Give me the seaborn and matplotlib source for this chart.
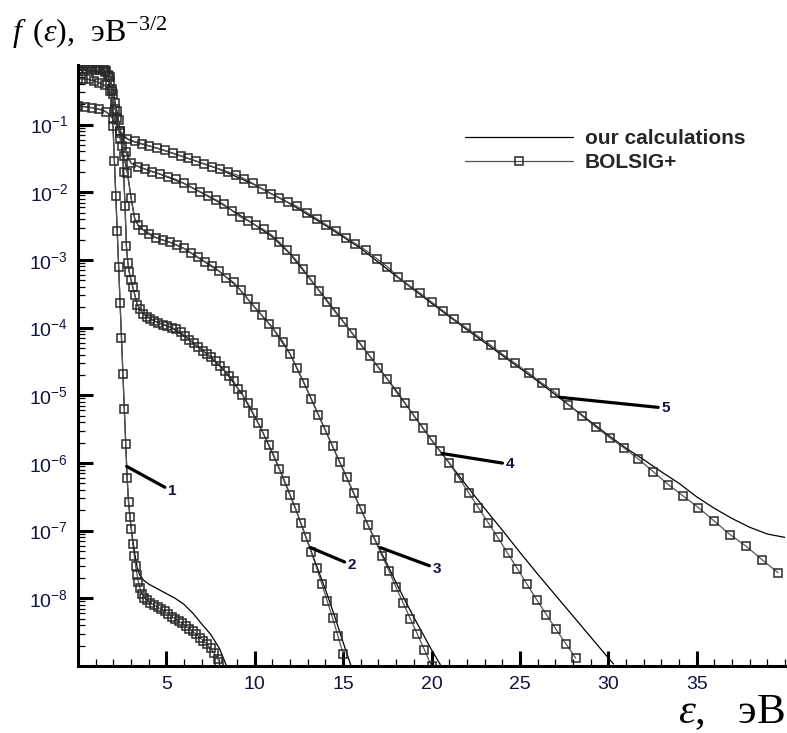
import numpy as np
import matplotlib
matplotlib.use("Agg")
import matplotlib.pyplot as plt
import seaborn as sns
from matplotlib.lines import Line2D
from matplotlib.ticker import LogLocator, NullFormatter, MultipleLocator

# ---------------- data (energy in eV, log10 of f in eV^-3/2) ----------------
# curve 1
e1_b = [0.0, 0.2, 0.4, 0.6, 0.8, 1.0, 1.2, 1.4, 1.55, 1.7, 1.8, 1.9, 1.98, 2.06, 2.14, 2.22, 2.30, 2.38,
        2.46, 2.54, 2.62, 2.70, 2.78, 2.86, 2.94, 3.02, 3.10, 3.18, 3.26, 3.34, 3.42, 3.50, 3.62, 3.76,
        3.92, 4.1, 4.3, 4.5, 4.7, 4.9, 5.1, 5.3, 5.5, 5.7, 5.9, 6.1, 6.3, 6.5, 6.7, 6.9, 7.1, 7.3, 7.5,
        7.7, 7.9, 8.0]
lg1_b = [-0.14, -0.14, -0.14, -0.14, -0.145, -0.15, -0.16, -0.17, -0.20, -0.27, -0.36, -0.50, -1.02,
         -1.54, -2.06, -2.58, -3.10, -3.63, -4.15, -4.68, -5.20, -5.72, -6.22, -6.58, -6.80, -6.98,
         -7.20, -7.37, -7.52, -7.65, -7.76, -7.85, -7.93, -7.99, -8.03, -8.07, -8.10, -8.13, -8.16,
         -8.19, -8.23, -8.27, -8.30, -8.34, -8.37, -8.41, -8.45, -8.49, -8.53, -8.58, -8.63, -8.68,
         -8.74, -8.81, -8.89, -8.94]
e1_c = [0.0, 0.5, 1.0, 1.4, 1.7, 1.8, 1.9, 2.0, 2.2, 2.4, 2.6, 2.78, 2.86, 3.0, 3.2, 3.35, 3.5, 3.7,
        4.0, 4.5, 5.0, 5.5, 6.0, 6.5, 7.0, 7.5, 8.0, 8.3, 8.4]
lg1_c = [-0.14, -0.14, -0.15, -0.17, -0.27, -0.36, -0.50, -1.15, -2.45, -3.76, -5.07, -6.22, -6.58,
         -6.95, -7.32, -7.55, -7.66, -7.73, -7.79, -7.86, -7.93, -8.00, -8.09, -8.22, -8.38, -8.53,
         -8.74, -8.93, -9.0]

# curve 2
e2_b = [0.0, 0.2, 0.4, 0.6, 0.8, 1.0, 1.2, 1.4, 1.6, 1.8, 1.95, 2.1, 2.2, 2.3, 2.4, 2.5, 2.58, 2.66,
        2.74, 2.82, 2.9, 3.0, 3.1, 3.22, 3.35, 3.5, 3.7, 3.9, 4.1, 4.3, 4.55, 4.8, 5.05, 5.3, 5.55,
        5.8, 6.05, 6.3, 6.55, 6.8, 7.05, 7.3, 7.55, 7.8, 8.05, 8.3, 8.55, 8.8, 9.05, 9.3, 9.6, 9.9,
        10.2, 10.5, 10.8, 11.1, 11.4, 11.7, 12.0, 12.3, 12.6, 12.9, 13.2, 13.5, 13.8, 14.1, 14.4,
        14.7, 15.0]
lg2_b = [-0.14, -0.14, -0.14, -0.14, -0.145, -0.15, -0.16, -0.17, -0.21, -0.30, -0.48, -0.68, -0.80,
         -0.94, -1.12, -1.32, -1.70, -2.20, -2.80, -3.04, -3.18, -3.30, -3.40, -3.52, -3.66, -3.73,
         -3.80, -3.84, -3.87, -3.90, -3.93, -3.96, -3.98, -4.00, -4.02, -4.07, -4.12, -4.18, -4.23,
         -4.29, -4.34, -4.39, -4.44, -4.50, -4.57, -4.64, -4.71, -4.79, -4.90, -4.99, -5.11, -5.26,
         -5.41, -5.57, -5.73, -5.90, -6.09, -6.27, -6.47, -6.67, -6.88, -7.10, -7.32, -7.55, -7.79,
         -8.04, -8.29, -8.55, -8.82]
e2_c = [0.0, 0.5, 1.0, 1.5, 1.8, 2.0, 2.2, 2.4, 2.5, 2.58, 2.66, 2.74, 2.82, 2.9, 3.05, 3.35, 3.7,
        4.3, 5.3, 6.3, 7.3, 8.3, 9.3, 10.3, 11.3, 12.3, 13.0, 13.5, 14.0, 14.5, 15.0, 15.45]
lg2_c = [-0.14, -0.14, -0.15, -0.19, -0.30, -0.55, -0.80, -1.12, -1.32, -1.70, -2.20, -2.80, -3.04,
         -3.18, -3.35, -3.66, -3.80, -3.90, -4.00, -4.18, -4.39, -4.64, -4.99, -5.46, -6.03, -6.67,
         -7.17, -7.52, -7.87, -8.25, -8.65, -9.0]

# curve 3
e3_b = [0.0, 0.25, 0.5, 0.75, 1.0, 1.25, 1.5, 1.75, 2.0, 2.2, 2.4, 2.6, 2.8, 3.0, 3.2, 3.4, 3.7, 4.0,
        4.4, 4.8, 5.2, 5.6, 6.0, 6.4, 6.8, 7.2, 7.6, 8.0, 8.4, 8.8, 9.2, 9.6, 10.0, 10.4, 10.8, 11.2,
        11.6, 12.0, 12.4, 12.8, 13.2, 13.6, 14.0, 14.4, 14.8, 15.2, 15.6, 16.0, 16.4, 16.8, 17.2,
        17.6, 18.0, 18.4, 18.8, 19.2, 19.6, 20.0]
lg3_b = [-0.18, -0.18, -0.18, -0.185, -0.19, -0.20, -0.22, -0.28, -0.55, -0.90, -1.22, -1.47, -1.72,
         -2.08, -2.38, -2.49, -2.56, -2.62, -2.67, -2.71, -2.74, -2.78, -2.83, -2.90, -2.96, -3.03,
         -3.09, -3.17, -3.26, -3.33, -3.45, -3.58, -3.70, -3.82, -3.94, -4.07, -4.21, -4.39, -4.60,
         -4.82, -5.06, -5.29, -5.52, -5.75, -5.98, -6.21, -6.45, -6.68, -6.91, -7.14, -7.37, -7.60,
         -7.84, -8.07, -8.30, -8.53, -8.76, -9.00]
e3_c = [0.0, 0.5, 1.0, 1.5, 1.75, 2.0, 2.2, 2.4, 2.6, 2.8, 3.0, 3.2, 3.4, 3.7, 4.4, 5.2, 6.0, 7.0,
        8.0, 9.0, 10.0, 11.0, 12.0, 13.0, 14.0, 15.0, 16.0, 16.5, 17.0, 17.5, 18.0, 18.5, 19.0, 19.5,
        20.0, 20.5]
lg3_c = [-0.18, -0.18, -0.19, -0.22, -0.28, -0.55, -0.90, -1.22, -1.47, -1.72, -2.08, -2.38, -2.49,
         -2.56, -2.67, -2.74, -2.83, -3.00, -3.17, -3.39, -3.70, -4.00, -4.39, -4.94, -5.52, -6.10,
         -6.68, -6.97, -7.24, -7.50, -7.77, -8.03, -8.28, -8.52, -8.76, -8.98]

# curve 4
e4_b = [0.0, 0.3, 0.6, 0.9, 1.2, 1.5, 1.8, 2.1, 2.4, 2.7, 3.0, 3.4, 3.8, 4.2, 4.65, 5.1, 5.55, 6.0,
        6.45, 6.9, 7.35, 7.8, 8.25, 8.7, 9.15, 9.6, 10.05, 10.5, 10.95, 11.4, 11.85, 12.3, 12.75,
        13.2, 13.65, 14.1, 14.55, 15.0, 15.5, 16.0, 16.5, 17.0, 17.5, 18.0, 18.5, 19.0, 19.5, 20.0,
        20.5, 21.0, 21.55, 22.1, 22.65, 23.2, 23.75, 24.3, 24.85, 25.4, 25.95, 26.5, 27.05, 27.6,
        28.15]
lg4_b = [-0.32, -0.32, -0.33, -0.35, -0.38, -0.42, -0.50, -0.77, -1.10, -1.40, -1.57, -1.62, -1.66,
         -1.70, -1.73, -1.77, -1.81, -1.87, -1.93, -1.99, -2.05, -2.11, -2.18, -2.27, -2.36, -2.42,
         -2.49, -2.55, -2.63, -2.74, -2.86, -2.99, -3.14, -3.30, -3.46, -3.62, -3.77, -3.91, -4.08,
         -4.25, -4.42, -4.59, -4.76, -4.95, -5.12, -5.30, -5.48, -5.66, -5.83, -6.00, -6.22, -6.44,
         -6.66, -6.88, -7.10, -7.33, -7.56, -7.79, -8.02, -8.24, -8.46, -8.67, -8.88]
e4_c = [0.0, 0.5, 1.0, 1.5, 1.8, 2.1, 2.4, 2.7, 3.0, 3.5, 4.5, 6.0, 8.0, 10.0, 11.0, 12.0, 13.0, 14.0,
        15.0, 16.0, 17.0, 18.0, 19.0, 20.0, 21.0, 22.0, 23.0, 24.0, 25.0, 26.0, 27.0, 28.0, 29.0,
        30.0, 30.3]
lg4_c = [-0.32, -0.33, -0.36, -0.42, -0.50, -0.77, -1.10, -1.40, -1.57, -1.63, -1.72, -1.87, -2.15,
         -2.48, -2.66, -2.91, -3.24, -3.57, -3.91, -4.25, -4.59, -4.93, -5.30, -5.66, -6.00, -6.34,
         -6.67, -6.99, -7.32, -7.64, -7.95, -8.26, -8.57, -8.88, -8.97]

# curve 5
e5_b = [0.0, 0.4, 0.8, 1.2, 1.6, 2.0, 2.4, 2.8, 3.2, 3.6, 4.0, 4.45, 4.9, 5.35, 5.8, 6.25, 6.7, 7.15,
        7.6, 8.05, 8.5, 8.95, 9.4, 9.9, 10.4, 10.9, 11.4, 11.9, 12.4, 12.95, 13.5, 14.05, 14.6,
        15.15, 15.7, 16.3, 16.9, 17.5, 18.1, 18.7, 19.35, 20.0, 20.65, 21.3, 21.95, 22.65, 23.35,
        24.05, 24.75, 25.5, 26.25, 27.0, 27.75, 28.5, 29.3, 30.1, 30.9, 31.7, 32.55, 33.4, 34.25,
        35.1, 36.0, 36.9, 37.8, 38.7, 39.6]
lg5_b = [-0.73, -0.735, -0.75, -0.77, -0.81, -0.92, -1.10, -1.21, -1.25, -1.28, -1.31, -1.35, -1.38,
         -1.42, -1.46, -1.50, -1.54, -1.58, -1.62, -1.66, -1.70, -1.74, -1.80, -1.87, -1.95, -2.02,
         -2.08, -2.15, -2.21, -2.30, -2.39, -2.48, -2.57, -2.67, -2.76, -2.86, -2.98, -3.10, -3.25,
         -3.37, -3.49, -3.62, -3.75, -3.88, -4.00, -4.13, -4.26, -4.40, -4.53, -4.67, -4.82, -4.96,
         -5.14, -5.30, -5.47, -5.63, -5.78, -5.94, -6.13, -6.32, -6.49, -6.66, -6.86, -7.06, -7.23,
         -7.43, -7.62]
e5_c = [0.0, 0.5, 1.0, 1.5, 1.8, 2.1, 2.4, 2.7, 3.0, 3.5, 4.5, 6.0, 8.0, 10.0, 12.0, 14.0, 16.0, 18.0,
        20.0, 22.0, 24.0, 26.0, 28.0, 30.0, 31.0, 32.0, 33.0, 34.0, 35.0, 36.0, 37.0, 38.0, 39.0, 40.0]
lg5_c = [-0.73, -0.74, -0.76, -0.80, -0.85, -0.96, -1.10, -1.20, -1.24, -1.28, -1.35, -1.48, -1.66,
         -1.89, -2.17, -2.49, -2.83, -3.24, -3.64, -4.03, -4.41, -4.79, -5.19, -5.59, -5.78, -5.95,
         -6.13, -6.30, -6.50, -6.67, -6.82, -6.95, -7.05, -7.10]

legend_labels = ["our calculations", "BOLSIG+"]
curve_names = ["1", "2", "3", "4", "5"]
# annotation: point on curve (e, log10 f) and label position (e, log10 f)
leader_pt = [(2.75, -6.05), (13.15, -7.25), (17.1, -7.25), (20.6, -5.86), (27.26, -5.03)]
label_pt = [(5.34, -6.42), (15.51, -7.51), (20.31, -7.56), (24.44, -6.02), (33.25, -5.19)]
xticks = [5, 10, 15, 20, 25, 30, 35]
yticks = [1e-8, 1e-7, 1e-6, 1e-5, 1e-4, 1e-3, 1e-2, 1e-1]

# ---------------- style ----------------
sns.set_theme(style="white")
plt.rcParams.update({
    "font.family": ["Liberation Sans", "DejaVu Sans"],
    "mathtext.fontset": "custom",
    "mathtext.rm": "Liberation Serif",
    "mathtext.it": "Liberation Serif:italic",
    "mathtext.bf": "Liberation Serif:bold",
    "axes.unicode_minus": False,
})

W, H = 787, 733
fig = plt.figure(figsize=(W / 100, H / 100), dpi=100)
ax = fig.add_axes([78 / W, 67 / H, 707 / W, 601 / H])

calc_kw = dict(color="black", lw=0.9, estimator=None, sort=False, errorbar=None)
bol_kw = dict(color="#555555", lw=0.9, marker="s", markersize=5.6, markerfacecolor="none",
              markeredgecolor="#2a2a2a", markeredgewidth=1.1, estimator=None, sort=False,
              errorbar=None)

series = [(e1_b, lg1_b, e1_c, lg1_c), (e2_b, lg2_b, e2_c, lg2_c), (e3_b, lg3_b, e3_c, lg3_c),
          (e4_b, lg4_b, e4_c, lg4_c), (e5_b, lg5_b, e5_c, lg5_c)]
for eb, lb, ec, lc in series:
    sns.lineplot(x=ec, y=10.0 ** np.array(lc), ax=ax, **calc_kw)
    sns.lineplot(x=eb, y=10.0 ** np.array(lb), ax=ax, **bol_kw)

ax.set_yscale("log")
ax.set_xlim(0, 40)
ax.set_ylim(1e-9, 10 ** -0.12)
ax.set_xticks(xticks)
ax.xaxis.set_minor_locator(MultipleLocator(1))
ax.set_yticks(yticks)
ax.yaxis.set_minor_locator(LogLocator(base=10, subs=np.arange(2, 10), numticks=100))
ax.yaxis.set_minor_formatter(NullFormatter())
ax.set_xlabel("")
ax.set_ylabel("")

tick_color = "#121240"
ax.tick_params(which="major", direction="in", length=11, width=2.2, color="black",
               labelcolor=tick_color, labelsize=14, pad=7)
ax.tick_params(which="minor", direction="in", length=5, width=0.9, color="black")
ax.tick_params(axis="y", which="both", left=True)
ax.tick_params(axis="x", which="both", bottom=True)
for s in ["top", "right"]:
    ax.spines[s].set_visible(False)
for s in ["left", "bottom"]:
    ax.spines[s].set_linewidth(2.2)
    ax.spines[s].set_color("black")

# legend
handles = [Line2D([], [], color="black", lw=0.9),
           Line2D([], [], color="#555555", lw=0.9, marker="s", markersize=5.6,
                  markerfacecolor="none", markeredgecolor="#2a2a2a", markeredgewidth=1.1)]
ax.legend(handles, legend_labels, loc="upper left", bbox_to_anchor=((465 - 78) / 707, (666 - 129) / 601),
          frameon=False, handlelength=5.2, handletextpad=0.55, labelspacing=0.25, numpoints=1,
          borderpad=0, borderaxespad=0,
          prop={"family": "Liberation Sans", "weight": "bold", "size": 15})

# curve labels with leader lines
for name, (xe, xl), (te, tl) in zip(curve_names, leader_pt, label_pt):
    ax.annotate(name, xy=(xe, 10 ** xl), xytext=(te, 10 ** tl), ha="center", va="center",
                fontsize=11, fontweight="bold", color=tick_color,
                arrowprops=dict(arrowstyle="-", lw=2.3, color="black", shrinkA=0, shrinkB=0))

# axis titles
fig.text(12 / W, 1 - 42 / H, r"$f\ \,(\varepsilon)$,  эВ$^{-3/2}$", fontfamily="Liberation Serif",
         fontsize=23, ha="left", va="baseline", color="black")
fig.text(785 / W, 1 - 723 / H, r"$\varepsilon$,   эВ", fontfamily="Liberation Serif",
         fontsize=31, ha="right", va="baseline", color="black")

fig.savefig("out.png", dpi=100)
